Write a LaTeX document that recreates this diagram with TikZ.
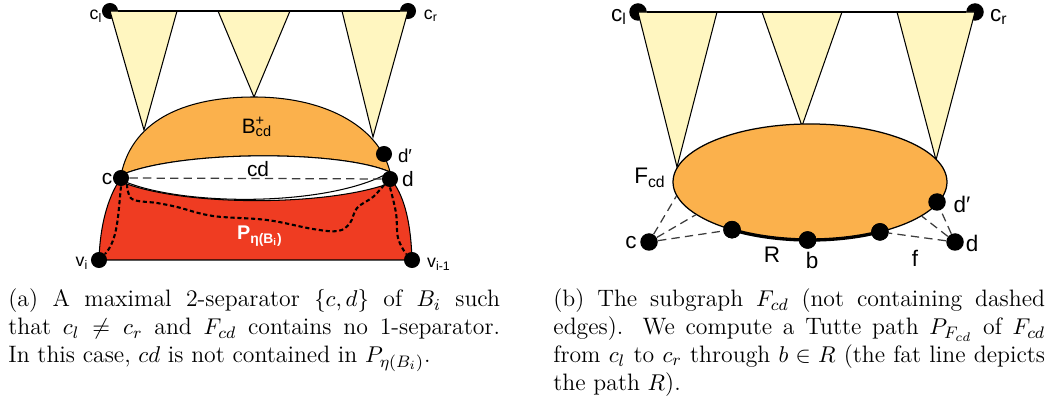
\documentclass[tikz,border=0pt]{standalone}
\usepackage{fontspec}
\newfontfamily\lsans{Liberation Sans}
\usetikzlibrary{shapes.geometric}
\definecolor{tricol}{RGB}{255,246,192}
\definecolor{orng}{RGB}{251,177,76}
\definecolor{redf}{RGB}{239,60,34}
\definecolor{dgray}{RGB}{60,60,60}
\newcommand{\capline}[1]{\makebox[\linewidth][s]{#1}}
\begin{document}
\begin{tikzpicture}[x=0.48pt,y=-0.48pt,
  vtx/.style={circle,fill=black,inner sep=0pt,minimum size=7.7pt},
  vtxb/.style={circle,fill=black,inner sep=0pt,minimum size=8.4pt},
  trishape/.style={fill=tricol,draw=black,line width=0.5pt,line join=miter},
  outl/.style={draw=black,line width=0.5pt},
  lbl/.style={font=\lsans\fontsize{10}{12}\selectfont,inner sep=0pt},
  blbl/.style={font=\lsans\fontsize{10.8}{12}\selectfont,inner sep=0pt},
  slbl/.style={font=\lsans\fontsize{8.5}{10}\selectfont,inner sep=0pt},
  dsh/.style={draw=dgray,dash pattern=on 4pt off 2.5pt,line width=0.6pt},
  dotln/.style={draw=black,dash pattern=on 2pt off 1.3pt,line width=1pt},
  captxt/.style={inner sep=0pt,anchor=base west}
]
\useasboundingbox (0,0) rectangle (1063,405);

% ---------------- (a) ----------------
\node[vtx] (acl) at (110,11) {};
\node[vtx] (acr) at (408,11) {};
\draw[trishape] (acl.center) -- (177,11) -- (144,130) -- cycle;
\draw[trishape] (218,11) -- (290,11) -- (254,97) -- cycle;
\draw[trishape] (342,11) -- (acr.center) -- (373,137) -- cycle;
\draw[line width=0.6pt] (acl) -- (acr);

% orange B+
\draw[outl,fill=orng] (121,175) .. controls (133,117) and (190,97) .. (254,97)
   .. controls (330,97) and (380,130) .. (390,172)
   .. controls (340,150) and (180,150) .. (121,175) -- cycle;
% red region
\draw[outl,fill=redf] (99,260) -- (412,260) .. controls (411,225) and (405,198) .. (393,182)
   .. controls (330,207) and (180,207) .. (119,181)
   .. controls (108,198) and (100,225) .. (99,260) -- cycle;
% white lens
\draw[outl,fill=white] (121,175) .. controls (180,150) and (340,150) .. (390,172)
   .. controls (330,207) and (180,207) .. (121,180) -- cycle;

\node[vtx] (ac) at (121,178) {};
\node[vtx] (ad) at (390,179) {};
\node[vtx] (adp) at (384,154) {};
\node[vtx] (avi) at (99,260) {};
\node[vtx] (avj) at (412,260) {};

\draw[dsh] (ac) -- (ad);
\draw[dotln] (ac.south) .. controls (118,215) and (118,240) .. (avi.north east);
\draw[dotln] plot[smooth,tension=0.6] coordinates {(ac.south east) (132,199) (157,203) (177,207) (213,216) (267,220) (313,229) (338,231) (350,223) (357,208) (373,197) (ad.south west)};
\draw[dotln] plot[smooth,tension=0.6] coordinates {(ad.south) (396,213) (398,238) (avj.north west)};

\node[slbl] (lacl) at (96,16) {c\textsubscript{l}};
\node[slbl] (lacr) at (431,16) {c\textsubscript{r}};
\node[lbl] (lB) at (257,127) {B\rlap{\textsuperscript{+}}\textsubscript{cd}};
\node[lbl] (lcd) at (258,169) {cd};
\node[lbl,font=\lsans\fontsize{9}{10}\selectfont] (ldp) at (405,156) {d′};
\node[lbl] (lc) at (107,179) {c};
\node[lbl] (ld) at (408,179) {d};
\node[lbl,text=white,font=\lsans\bfseries\fontsize{9.5}{11}\selectfont] (lP) at (260,236) {P\textsubscript{η(B\textsubscript{i})}};
\node[slbl] (lvi) at (82,263) {v\textsubscript{i}};
\node[slbl] (lvj) at (439,264) {v\textsubscript{i-1}};

% ---------------- (b) ----------------
\node[vtxb] (bcl) at (638,12) {};
\node[vtxb] (bcr) at (975,12) {};
\draw[trishape] (bcl.center) -- (717,12) -- (677,167) -- cycle;
\draw[trishape] (762,12) -- (842,12) -- (802,126) -- cycle;
\draw[trishape] (897,12) -- (bcr.center) -- (936,160) -- cycle;
\draw[line width=0.6pt] (bcl) -- (bcr);

\node[ellipse,draw=black,line width=0.6pt,fill=orng,minimum width=131.5pt,minimum height=55.7pt,inner sep=0pt] (F) at (810,182) {};

\node[vtxb] (bc) at (649,242) {};
\node[vtxb] (bd) at (955,242) {};
\node[vtxb] (n1) at ({810+137*cos(124.7)},{182+58*sin(124.7)}) {};
\node[vtxb] (nb) at ({810+137*cos(91)},{182+58*sin(91)}) {};
\node[vtxb] (n3) at ({810+137*cos(59.3)},{182+58*sin(59.3)}) {};
\node[vtxb] (bdp) at (937,202) {};

\draw[dsh] (bc) -- (F.186.3);
\draw[dsh] (bc) -- (F.196.7);
\draw[dsh] (bc) -- (n1);
\draw[dsh] (bd) -- (bdp);
\draw[dsh] (bd) -- (F.343.3);
\draw[dsh] (bd) -- (n3);
\draw[line width=1.6pt] plot[domain=124.7:59.3,samples=40] ({810+137*cos(\x)},{182+58*sin(\x)});
\node[vtxb] at (n1) {};
\node[vtxb] at (nb) {};
\node[vtxb] at (n3) {};

\node[blbl] (lbcl) at (619,17) {c\textsubscript{l}};
\node[blbl] (lbcr) at (999,17) {c\textsubscript{r}};
\node[blbl] (lF) at (650,178) {F\textsubscript{cd}};
\node[blbl] (lbdp) at (962,204) {d′};
\node[blbl] (lbc) at (631,243) {c};
\node[blbl] (lbd) at (972,243) {d};
\node[blbl] (lR) at (772,255) {R};
\node[blbl] (lb) at (812,260) {b};
\node[blbl] (lf) at (915,258) {f};

% ---------------- captions ----------------
\node[captxt] (capa) at (8,307) {\parbox[t]{236pt}{\fontsize{11.4}{13.3}\selectfont
\capline{(a) A maximal 2-separator $\{c,d\}$ of $B_i$ such}\\
\capline{that $c_l \neq c_r$ and $F_{cd}$ contains no 1-separator.}\\
In this case, $cd$ is not contained in $P_{\eta(B_i)}$.}};
\node[captxt] (capb) at (553,307) {\parbox[t]{236pt}{\fontsize{11.4}{13.3}\selectfont
\capline{(b) The subgraph $F_{cd}$ (not containing dashed}\\
\capline{edges). We compute a Tutte path $P_{F_{cd}}$ of $F_{cd}$}\\
\capline{from $c_l$ to $c_r$ through $b \in R$ (the fat line depicts}\\
the path $R$).}};
\end{tikzpicture}
\end{document}
